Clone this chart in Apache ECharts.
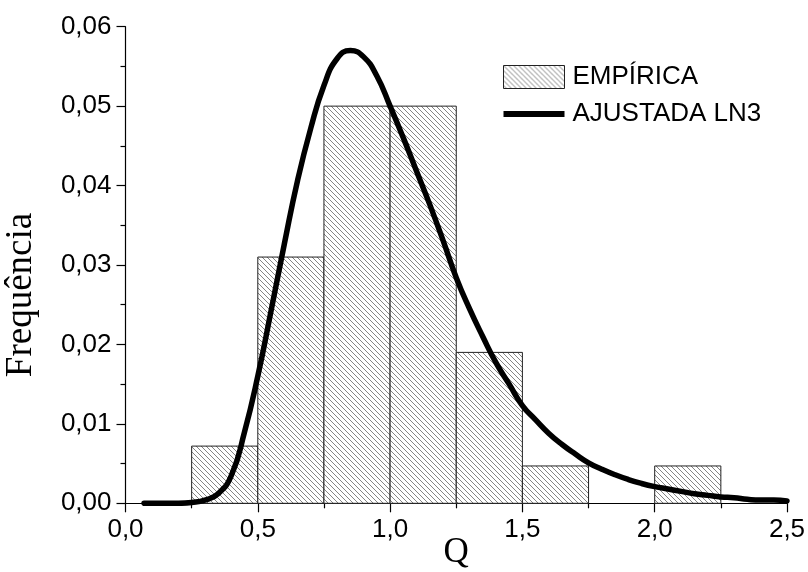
<!DOCTYPE html>
<html>
<head>
    <meta charset="utf-8" />
    <title>Frequência - EMPÍRICA x AJUSTADA LN3</title>
    <script src="https://cdnjs.cloudflare.com/ajax/libs/echarts/6.0.0/echarts.min.js"></script>
    <style>
        body, html {
            margin: 0;
            padding: 0;
            background: #fff;
        }
        #main {
            width: 808px;
            height: 572px;
        }
    </style>
</head>
<body>
<div id="main"></div>
<script type="text/javascript">
    // histograma empírico (classes de 0,25)
    var binStart = [0.25, 0.50, 0.75, 1.00, 1.25, 1.50, 1.75, 2.00];
    var binEnd   = [0.50, 0.75, 1.00, 1.25, 1.50, 1.75, 2.00, 2.25];
    var binFreq  = [0.0072, 0.031, 0.050, 0.050, 0.019, 0.0047, 0, 0.0047];

    // curva ajustada LN3
    var curveQ = [0.07, 0.10, 0.15, 0.20, 0.25, 0.30, 0.35, 0.40, 0.45, 0.50,
                  0.55, 0.60, 0.65, 0.70, 0.75, 0.80, 0.85, 0.90, 0.95, 1.00,
                  1.05, 1.10, 1.15, 1.20, 1.25, 1.30, 1.35, 1.40, 1.45, 1.50,
                  1.55, 1.60, 1.65, 1.70, 1.75, 1.80, 1.85, 1.90, 1.95, 2.00,
                  2.05, 2.10, 2.15, 2.20, 2.25, 2.30, 2.35, 2.40, 2.45, 2.50];
    var curveF = [0, 0, 0, 0, 0.0001, 0.0004, 0.0012, 0.0035, 0.0090, 0.0160,
                  0.0242, 0.0326, 0.0406, 0.0472, 0.0526, 0.0560, 0.0570, 0.0562, 0.0538, 0.0500,
                  0.0460, 0.0418, 0.0376, 0.0331, 0.0284, 0.0245, 0.0210, 0.0177, 0.0150, 0.0123,
                  0.0105, 0.0088, 0.0074, 0.0062, 0.0051, 0.0043, 0.0036, 0.0030, 0.0025, 0.0021,
                  0.0018, 0.0015, 0.0012, 0.0010, 0.0008, 0.0007, 0.0005, 0.0004, 0.0004, 0.0003];

    var xTicks = ['0,0', '0,5', '1,0', '1,5', '2,0', '2,5'];

    // hachura diagonal
    function makeHatch() {
        var s = 5;
        var c = document.createElement('canvas');
        c.width = s;
        c.height = s;
        var ctx = c.getContext('2d');
        ctx.fillStyle = '#fff';
        ctx.fillRect(0, 0, s, s);
        ctx.strokeStyle = '#666';
        ctx.lineWidth = 0.8;
        for (var k = -1; k <= 1; k++) {
            ctx.beginPath();
            ctx.moveTo(k * s, 0);
            ctx.lineTo(k * s + s, s);
            ctx.stroke();
        }
        return { image: c, repeat: 'repeat' };
    }
    var hatch = makeHatch();

    var bars = [];
    for (var i = 0; i < binStart.length; i++) {
        if (binFreq[i] > 0) bars.push([binStart[i], binEnd[i], binFreq[i]]);
    }
    var curve = curveQ.map(function (q, i) { return [q, curveF[i]]; });

    var chart = echarts.init(document.getElementById('main'));
    var labelFont = { fontFamily: 'Liberation Sans, Arial', fontSize: 26, color: '#000' };

    var option = {
        animation: false,
        backgroundColor: '#fff',
        grid: {
            left: 125.5,
            right: 21,
            top: 26.7,
            bottom: 68.7,
            outerBoundsMode: 'none',
            containLabel: false
        },
        legend: {
            left: 498,
            top: 59,
            orient: 'vertical',
            itemWidth: 61,
            itemHeight: 23,
            itemGap: 11,
            textStyle: {
                fontFamily: 'Liberation Sans, Arial',
                fontSize: 26,
                color: '#000',
                padding: [0, 0, 0, 3]
            },
            data: [
                { name: 'EMPÍRICA', icon: 'rect', itemStyle: { color: hatch, borderColor: '#222', borderWidth: 1 } },
                {
                    name: 'AJUSTADA LN3',
                    // linha grossa centrada na caixa da legenda
                    icon: 'path://M0,0 L1,0 M0,8.5 L61,8.5 L61,14.5 L0,14.5 Z M0,23 L1,23',
                    itemStyle: { color: '#000', borderWidth: 0 }
                }
            ]
        },
        xAxis: {
            type: 'value',
            min: 0,
            max: 2.5,
            interval: 0.5,
            name: 'Q',
            nameLocation: 'middle',
            nameGap: 32,
            nameMoveOverlap: false,
            nameTextStyle: { fontFamily: 'Liberation Serif, Times New Roman', fontSize: 35, color: '#000' },
            axisLine: { show: true, lineStyle: { color: '#000', width: 1.2 } },
            axisTick: { show: true, inside: false, length: 9, lineStyle: { color: '#000', width: 1.2 } },
            minorTick: { show: true, splitNumber: 2, length: 5, lineStyle: { color: '#000', width: 1.2 } },
            splitLine: { show: false },
            axisLabel: Object.assign({
                margin: 14,
                formatter: function (v) { return xTicks[Math.round(v / 0.5)]; }
            }, labelFont)
        },
        yAxis: {
            type: 'value',
            min: 0,
            max: 0.06,
            interval: 0.01,
            name: 'Frequência',
            nameLocation: 'middle',
            nameGap: 86,
            nameMoveOverlap: false,
            nameTextStyle: {
                fontFamily: 'Liberation Serif, Times New Roman',
                fontSize: 37,
                color: '#000',
                padding: [0, 60, 0, 0]
            },
            axisLine: { show: true, lineStyle: { color: '#000', width: 1.2 } },
            axisTick: { show: true, inside: false, length: 9, lineStyle: { color: '#000', width: 1.2 } },
            minorTick: { show: true, splitNumber: 2, length: 5, lineStyle: { color: '#000', width: 1.2 } },
            splitLine: { show: false },
            axisLabel: Object.assign({
                margin: 14,
                formatter: function (v) { return v.toFixed(2).replace('.', ','); }
            }, labelFont)
        },
        series: [
            {
                name: 'EMPÍRICA',
                type: 'custom',
                data: bars,
                itemStyle: { color: hatch, borderColor: '#222', borderWidth: 1 },
                renderItem: function (params, api) {
                    var p0 = api.coord([api.value(0), api.value(2)]);
                    var p1 = api.coord([api.value(1), 0]);
                    return {
                        type: 'rect',
                        shape: { x: p0[0], y: p0[1], width: p1[0] - p0[0], height: p1[1] - p0[1] },
                        style: { fill: hatch, stroke: '#222', lineWidth: 1 }
                    };
                },
                z: 2
            },
            {
                name: 'AJUSTADA LN3',
                type: 'line',
                data: curve,
                smooth: true,
                showSymbol: false,
                symbol: 'none',
                lineStyle: { color: '#000', width: 5.5, cap: 'round' },
                itemStyle: { color: '#000' },
                z: 5
            }
        ]
    };
    chart.setOption(option);
</script>
</body>
</html>
